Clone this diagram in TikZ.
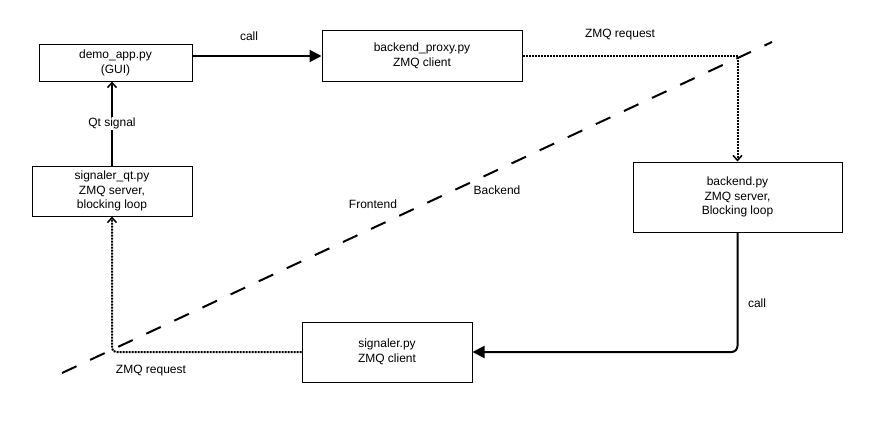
\documentclass[tikz,border=0pt]{standalone}
\usepackage{fontspec}
\setmainfont{Liberation Sans}
\usetikzlibrary{arrows.meta}
\begin{document}
\begin{tikzpicture}[x=1pt,y=-1pt,
  font=\fontsize{12}{14.5}\selectfont,
  box/.style={draw,line width=1pt,rectangle,inner sep=0pt,align=center},
  lbl/.style={inner sep=1pt},
  solidarrow/.style={line width=2pt,-{Triangle[length=12pt,width=12pt]}},
  dotarrow/.style={line width=2pt,dash pattern=on 2pt off 1pt,-{Straight Barb[length=5pt,width=9pt,line width=1.5pt]}},
  divider/.style={line width=2pt,dash pattern=on 16pt off 15pt}]
\useasboundingbox (0,0) rectangle (874,420);
% boundary line
\coordinate (d1) at (62,373);
\coordinate (d2) at (772,42);
\draw[divider] (d1) -- (d2);
% boxes
\node[box,minimum width=153pt,minimum height=36pt] (demo) at (115.5,63) {demo\_app.py\\(GUI)};
\node[box,minimum width=200pt,minimum height=50pt] (proxy) at (422,56) {backend\_proxy.py\\ZMQ client};
\node[box,minimum width=160pt,minimum height=50pt] (sqt) at (112,191) {signaler\_qt.py\\ZMQ server,\\blocking loop};
\node[box,minimum width=209pt,minimum height=70pt] (backend) at (737.5,197) {backend.py\\ZMQ server,\\Blocking loop};
\node[box,minimum width=170pt,minimum height=60pt] (sig) at (387,352) {signaler.py\\ZMQ client};
% connectors
\draw[solidarrow] (demo.east |- proxy.west) -- (proxy.west);
\draw[line width=2pt,-{Straight Barb[length=5pt,width=9pt,line width=1.5pt]}] (sqt.north) -- (sqt.north |- demo.south)
  node[lbl,fill=white,midway] (qtl) {Qt signal};
\draw[dotarrow] (proxy.east) -- (proxy.east -| backend.north) -- (backend.north);
\draw[solidarrow,rounded corners=6pt] (backend.south) -- (backend.south |- sig.east) -- (sig.east);
\draw[dotarrow,rounded corners=4pt] (sig.west) -- (sig.west -| sqt.south) -- (sqt.south);
% labels
\node[lbl] (l1) at (249,36) {call};
\node[lbl] (l2) at (620,35) {ZMQ request};
\node[lbl] (l3) at (757,303) {call};
\node[lbl] (l4) at (151,371) {ZMQ request};
\node[lbl] (l5) at (373,204) {Frontend};
\node[lbl] (l6) at (497,190) {Backend};
\end{tikzpicture}
\end{document}
